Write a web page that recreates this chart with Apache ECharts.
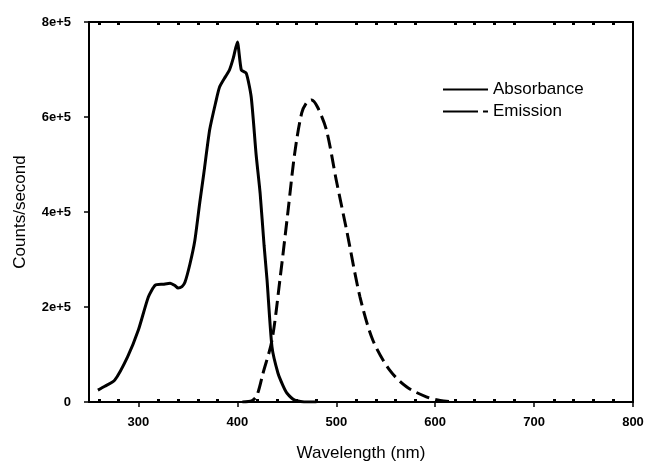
<!DOCTYPE html>
<html>
<head>
<meta charset="utf-8">
<script src="https://cdn.jsdelivr.net/npm/echarts@6/dist/echarts.min.js"></script>
<style>
  html, body { margin: 0; padding: 0; background: #fff; }
  #chart { width: 645px; height: 464px; }
</style>
</head>
<body>
<div id="chart"></div>
<script>
// absorbance curve (nm, counts/s)
var absWave = [259, 266, 276, 289, 300, 310, 317, 325, 332, 337, 340, 344, 347, 352, 357, 362, 366, 372, 378, 382, 388, 392, 396, 400, 404, 409, 414, 419, 423, 427, 430, 435, 441, 446, 450, 458, 470, 480];
var absCounts = [25000, 33000, 46000, 95000, 152000, 221000, 246000, 248000, 250000, 245000, 240000, 243000, 252000, 290000, 340000, 420000, 480000, 573000, 630000, 663000, 685000, 699000, 725000, 758000, 699000, 692000, 642000, 520000, 440000, 330000, 257000, 116000, 61000, 35000, 19000, 4000, 0, 0];

// emission curve (nm, counts/s)
var emWave = [405, 415, 420, 426, 435, 443, 451, 458, 465, 470, 475, 481, 490, 500, 511, 524, 537, 554, 571, 591, 605, 620];
var emCounts = [0, 3000, 15000, 61000, 130000, 257000, 398000, 524000, 608000, 630000, 636000, 621000, 573000, 467000, 356000, 221000, 130000, 67000, 32000, 11000, 3000, 0];

var majorTicks = [300, 400, 500, 600, 700, 800];
var minorTicks = [260, 280, 320, 340, 360, 380, 420, 440, 460, 480, 520, 540, 560, 580, 620, 640, 660, 680, 720, 740, 760, 780];

function pairs(xs, ys) {
  return xs.map(function (x, i) { return [x, ys[i]]; });
}

var myChart = echarts.init(document.getElementById("chart"));
var font = "Liberation Sans, Arial, sans-serif";

myChart.setOption({
  animation: false,
  grid: { left: 89, right: 12, top: 22, bottom: 62, containLabel: false, outerBoundsMode: "none" },
  legend: {
    orient: "vertical",
    left: 438,
    top: 76,
    itemWidth: 45,
    itemHeight: 2,
    itemGap: 5,
    textStyle: { fontFamily: font, fontSize: 17, color: "#000" },
    itemStyle: { color: "#000", borderWidth: 0 },
    data: [
      { name: "Absorbance", icon: "path://M0,0H45V2H0Z" },
      { name: "Emission", icon: "path://M0,0H35V2H0Z M40,0H45V2H40Z" }
    ]
  },
  xAxis: [
    {
      type: "value",
      position: "bottom",
      min: 250,
      max: 800,
      name: "Wavelength (nm)",
      nameLocation: "middle",
      nameGap: 43,
      nameTextStyle: { fontFamily: font, fontSize: 17, color: "#000" },
      axisLine: { show: true, lineStyle: { color: "#000", width: 2 } },
      axisTick: { show: true, length: 5, lineStyle: { color: "#000", width: 1.5 }, customValues: majorTicks },
      axisLabel: { fontFamily: font, fontSize: 13, fontWeight: "bold", color: "#000", margin: 14, customValues: majorTicks },
      splitLine: { show: false }
    },
    {
      type: "value",
      position: "bottom",
      min: 250,
      max: 800,
      axisLine: { show: false },
      axisTick: { show: true, inside: true, length: 3, lineStyle: { color: "#000", width: 3 }, customValues: minorTicks },
      axisLabel: { show: false },
      splitLine: { show: false }
    },
    {
      type: "value",
      position: "top",
      min: 250,
      max: 800,
      axisLine: { show: true, lineStyle: { color: "#000", width: 2 } },
      axisTick: { show: true, inside: true, length: 3, lineStyle: { color: "#000", width: 3 }, customValues: minorTicks },
      axisLabel: { show: false },
      splitLine: { show: false }
    }
  ],
  yAxis: [
    {
      type: "value",
      position: "left",
      min: 0,
      max: 800000,
      interval: 200000,
      name: "Counts/second",
      nameLocation: "middle",
      nameGap: 60,
      nameTextStyle: { fontFamily: font, fontSize: 17, color: "#000" },
      axisLine: { show: true, lineStyle: { color: "#000", width: 2 } },
      axisTick: { show: true, length: 5, lineStyle: { color: "#000", width: 1.5 } },
      axisLabel: {
        fontFamily: font, fontSize: 13, fontWeight: "bold", color: "#000", margin: 18,
        formatter: function (v) { return v === 0 ? "0" : (v / 100000) + "e+5"; }
      },
      splitLine: { show: false }
    },
    {
      type: "value",
      position: "right",
      min: 0,
      max: 800000,
      axisLine: { show: true, lineStyle: { color: "#000", width: 2 } },
      axisTick: { show: false },
      axisLabel: { show: false },
      splitLine: { show: false }
    }
  ],
  series: [
    {
      name: "Absorbance",
      type: "line",
      xAxisIndex: 0,
      yAxisIndex: 0,
      data: pairs(absWave, absCounts),
      showSymbol: false,
      symbol: "none",
      smooth: 0.2,
      lineStyle: { color: "#000", width: 3 },
      itemStyle: { color: "#000" }
    },
    {
      name: "Emission",
      type: "line",
      xAxisIndex: 0,
      yAxisIndex: 0,
      data: pairs(emWave, emCounts),
      showSymbol: false,
      symbol: "none",
      smooth: 0.3,
      lineStyle: { color: "#000", width: 3, type: [14, 6] },
      itemStyle: { color: "#000" }
    }
  ]
});

window.addEventListener("resize", function () {
  myChart.resize();
});
</script>
</body>
</html>
